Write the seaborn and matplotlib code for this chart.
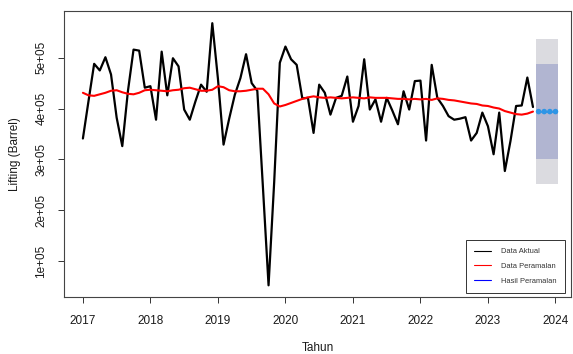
import numpy as np
import pandas as pd
import matplotlib
matplotlib.use("Agg")
import matplotlib.pyplot as plt
import seaborn as sns
from matplotlib.ticker import FuncFormatter
from matplotlib.lines import Line2D

# Monthly lifting series, Jan 2017 - Sep 2023 (barrel)
start_year = 2017
aktual = [
    341000, 415000, 488000, 475000, 501000, 467000, 382000, 326000, 434000, 516000, 514000, 441000,
    444000, 378000, 512000, 426000, 499000, 483000, 398000, 378000, 414000, 447000, 433000, 568000,
    459000, 329000, 380000, 427000, 460000, 507000, 450000, 435000, 245000, 52000, 255000, 490000,
    522000, 497000, 486000, 420000, 421000, 352000, 447000, 431000, 388000, 421000, 425000, 463000,
    374000, 405000, 497000, 398000, 418000, 374000, 421000, 396000, 369000, 434000, 398000, 454000,
    455000, 337000, 486000, 421000, 405000, 385000, 378000, 380000, 383000, 337000, 352000, 392000,
    365000, 310000, 392000, 277000, 336000, 405000, 406000, 461000, 403000,
]
# Fitted values of the smoothing model
peramalan = [
    431000, 426000, 425000, 428000, 431000, 435000, 436000, 432000, 429000, 428000, 431000, 436000,
    437000, 436000, 435000, 434000, 436000, 437000, 440000, 441000, 438000, 435000, 435000, 437000,
    444000, 442000, 436000, 434000, 434000, 435000, 437000, 439000, 439000, 428000, 410000, 404000,
    407000, 411000, 415000, 419000, 422000, 424000, 422000, 421000, 422000, 421000, 420000, 421000,
    422000, 421000, 420000, 422000, 421000, 421000, 421000, 420000, 419000, 419000, 418000, 419000,
    418000, 419000, 417000, 420000, 419000, 417000, 416000, 414000, 412000, 410000, 409000, 406000,
    405000, 402000, 400000, 395000, 392000, 389000, 388000, 390000, 394000,
]
# Forecast horizon Oct 2023 - Jan 2024
hasil = [394000, 394000, 394000, 394000]
lo80 = [300000, 300000, 300000, 300000]
hi80 = [488000, 488000, 488000, 488000]
lo95 = [251000, 251000, 251000, 251000]
hi95 = [537000, 537000, 537000, 537000]
year_ticks = [2017, 2018, 2019, 2020, 2021, 2022, 2023, 2024]
value_ticks = [100000, 200000, 300000, 400000, 500000]

sns.set_style("white")
plt.rcParams["font.family"] = ["Liberation Sans", "DejaVu Sans"]

n = len(aktual)
t_hist = start_year + np.arange(n) / 12
t_fc = start_year + np.arange(n, n + len(hasil)) / 12

hist = pd.DataFrame({"waktu": t_hist, "aktual": aktual, "peramalan": peramalan})
fc = pd.DataFrame({"waktu": t_fc, "hasil": hasil,
                   "lo80": lo80, "hi80": hi80, "lo95": lo95, "hi95": hi95})

fig = plt.figure(figsize=(5.73, 3.54), dpi=100)
ax = fig.add_axes([64 / 573, 1 - 297 / 354, 507 / 573, 286 / 354])

# prediction intervals, widened by half a month on each side
half = 0.5 / 12
band_x = np.concatenate([[fc["waktu"].iloc[0] - half], fc["waktu"], [fc["waktu"].iloc[-1] + half]])
def ext(col):
    v = fc[col].to_numpy()
    return np.concatenate([[v[0]], v, [v[-1]]])
ax.fill_between(band_x, ext("lo95"), ext("hi95"), color="#DBDBE0", lw=0, zorder=1)
ax.fill_between(band_x, ext("lo80"), ext("hi80"), color="#B1B5D1", lw=0, zorder=2)

sns.lineplot(data=hist, x="waktu", y="aktual", ax=ax, color="black", lw=1.6, zorder=3)
sns.lineplot(data=hist, x="waktu", y="peramalan", ax=ax, color="#FF0000", lw=1.5, zorder=4)
sns.lineplot(data=fc, x="waktu", y="hasil", ax=ax, color="#2E95E6", lw=1.2, zorder=5)
sns.scatterplot(data=fc, x="waktu", y="hasil", ax=ax, color="#2E95E6", s=16,
                edgecolor="none", zorder=6)

ax.set_xlim(2016.72, 2024.23)
ax.set_ylim(29000, 592000)
ax.set_xticks(year_ticks)
ax.set_yticks(value_ticks)
ax.yaxis.set_major_formatter(FuncFormatter(lambda v, p: f"{v:.0e}"))
ax.tick_params(axis="both", direction="out", length=4, width=0.7, color="#333333",
               labelsize=8.5, labelcolor="#1a1a1a", bottom=True, left=True)
ax.tick_params(axis="x", pad=9)
ax.tick_params(axis="y", pad=8)
for lab in ax.get_yticklabels():
    lab.set_rotation(90)
    lab.set_va("center")

for sp in ax.spines.values():
    sp.set_visible(True)
    sp.set_color("#444444")
    sp.set_linewidth(0.8)

ax.set_xlabel("Tahun", fontsize=8.5, color="#1a1a1a", labelpad=11)
ax.set_ylabel("Lifting (Barrel)", fontsize=8.5, color="#1a1a1a", labelpad=10)

handles = [Line2D([], [], color="black", lw=0.8),
           Line2D([], [], color="red", lw=0.8),
           Line2D([], [], color="blue", lw=0.8)]
leg = ax.legend(handles, ["Data Aktual", "Data Peramalan", "Hasil Peramalan"],
                loc="lower right", bbox_to_anchor=(0.988, 0.014), fontsize=5.4,
                frameon=True, fancybox=False, framealpha=1, edgecolor="#333333",
                borderpad=1.1, labelspacing=1.0, handlelength=2.3, handletextpad=1.3,
                borderaxespad=0)
leg.get_frame().set_linewidth(0.7)
for txt in leg.get_texts():
    txt.set_color("#333333")

fig.savefig("out.png", dpi=100)
